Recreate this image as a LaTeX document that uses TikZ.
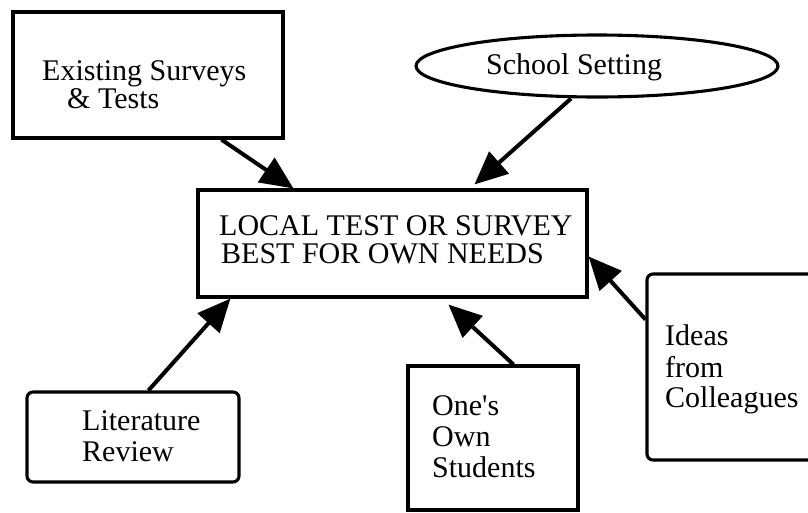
\documentclass[tikz,border=0pt]{standalone}
\usepackage{fontspec}
\setmainfont{Liberation Serif}[Ligatures=TeXOff]
\usetikzlibrary{arrows.meta,shapes.geometric}
\begin{document}
\begin{tikzpicture}[x=1pt,y=-1pt,
  box/.style={draw, line width=3.1pt, inner sep=0pt},
  roundbox/.style={box, rounded corners=6pt},
  lbl/.style={anchor=base west, inner sep=0pt, font=\fontsize{30}{30}\selectfont},
  feed/.style={line width=4pt, -{Triangle[length=33pt,width=29pt]}}
]
\useasboundingbox (0,0) rectangle (808,512);
\clip (0,0) rectangle (808,512);

% sources and the central goal
\node[box, minimum width=270pt, minimum height=126pt] (exist) at (148,75) {};
\node[box, ellipse, minimum width=362pt, minimum height=62pt] (school) at (597,66) {};
\node[box, minimum width=389pt, minimum height=107pt] (local) at (392.5,243.5) {};
\node[roundbox, minimum width=212pt, minimum height=90pt] (lit) at (133,437) {};
\node[box, minimum width=170pt, minimum height=144pt] (own) at (493,438) {};
\node[roundbox, minimum width=173pt, minimum height=186pt] (ideas) at (733.5,367) {};

% labels
\node[lbl] (exist1) at (42,80.5) {Existing Surveys};
\node[lbl] (exist2) at (67,108.5) {\& Tests};
\node[lbl] (school1) at (486,74) {School Setting};
\node[lbl] (local1) at (219,235) {LOCAL TEST OR SURVEY};
\node[lbl] (local2) at (221,263) {BEST FOR OWN NEEDS};
\node[lbl] (lit1) at (82,430) {Literature};
\node[lbl] (lit2) at (82,461) {Review};
\node[lbl] (own1) at (432,415) {One's};
\node[lbl] (own2) at (432,446) {Own};
\node[lbl] (own3) at (432,477) {Students};
\node[lbl] (ideas1) at (665,345) {Ideas};
\node[lbl] (ideas2) at (665,377) {from};
\node[lbl] (ideas3) at (665,407) {Colleagues};

% influences feeding the local instrument
\draw[feed] ([xshift=210pt]exist.south west) -- ([xshift=97pt]local.north west);
\draw[feed] ([xshift=-26pt]school.south) -- ([xshift=278pt,yshift=4pt]local.north west);
\draw[feed] ([xshift=123pt]lit.north west) -- ([xshift=34pt]local.south west);
\draw[feed] ([xshift=107pt]own.north west) -- ([xshift=252pt,yshift=-6pt]local.south west);
\draw[feed] ([yshift=-47pt]ideas.north west) -- ([yshift=-68pt]local.north east);
\end{tikzpicture}
\end{document}
